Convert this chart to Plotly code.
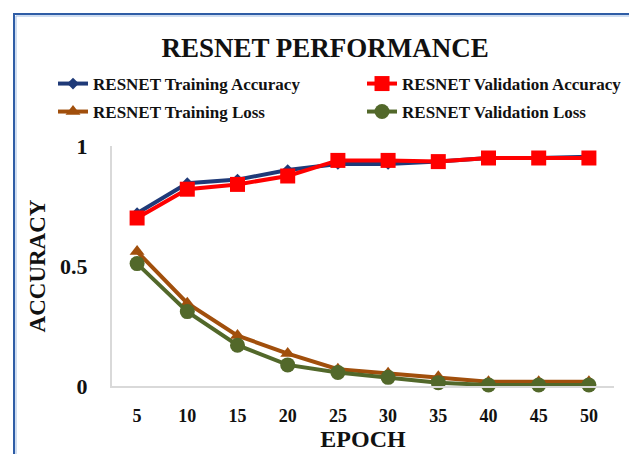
import plotly.graph_objects as go

# Epochs and per-epoch metrics for the ResNet run
epochs = [5, 10, 15, 20, 25, 30, 35, 40, 45, 50]
train_acc = [0.72, 0.845, 0.86, 0.90, 0.925, 0.925, 0.935, 0.95, 0.95, 0.955]
val_acc = [0.70, 0.82, 0.84, 0.875, 0.94, 0.94, 0.935, 0.95, 0.95, 0.95]
train_loss = [0.56, 0.345, 0.21, 0.135, 0.07, 0.053, 0.039, 0.018, 0.018, 0.018]
val_loss = [0.51, 0.31, 0.17, 0.088, 0.056, 0.036, 0.014, 0.004, 0.004, 0.004]

y_ticks = [0, 0.5, 1]
y_tick_text = ["0", "0.5", "1"]

SERIF = "Liberation Serif, Times New Roman, serif"

fig = go.Figure()

fig.add_trace(go.Scatter(
    x=epochs, y=train_acc, name="RESNET Training Accuracy", mode="lines+markers",
    line=dict(color="#1f3a78", width=4),
    marker=dict(symbol="diamond", size=9, color="#1f3a78"),
    legend="legend", cliponaxis=False,
))
fig.add_trace(go.Scatter(
    x=epochs, y=val_acc, name="RESNET Validation Accuracy", mode="lines+markers",
    line=dict(color="#ff0000", width=4),
    marker=dict(symbol="square", size=15, color="#ff0000"),
    legend="legend", cliponaxis=False,
))
fig.add_trace(go.Scatter(
    x=epochs, y=train_loss, name="RESNET Training Loss", mode="lines+markers",
    line=dict(color="#a14f0c", width=4),
    marker=dict(symbol="triangle-up", size=13, color="#a14f0c"),
    legend="legend2", cliponaxis=False,
))
fig.add_trace(go.Scatter(
    x=epochs, y=val_loss, name="RESNET Validation Loss", mode="lines+markers",
    line=dict(color="#52682a", width=4),
    marker=dict(symbol="circle", size=15, color="#52682a"),
    legend="legend2", cliponaxis=False,
))

legend_common = dict(
    orientation="h", xanchor="left", yanchor="middle",
    entrywidth=264, entrywidthmode="pixels",
    font=dict(family=SERIF, size=17, color="#111111", weight="bold"),
    bgcolor="rgba(0,0,0,0)", borderwidth=0, traceorder="normal",
)

fig.update_layout(
    width=629, height=454,
    margin=dict(l=112, r=15, t=146, b=68, autoexpand=False),
    paper_bgcolor="white", plot_bgcolor="white",
    showlegend=True,
    title=dict(
        text="<b>RESNET PERFORMANCE</b>",
        font=dict(family=SERIF, size=27, color="#111111"),
        x=0.517, xref="container", xanchor="center",
        y=1 - 48 / 454, yref="container", yanchor="middle",
    ),
    legend=dict(x=-0.1175, y=1.2583, **legend_common),
    legend2=dict(x=-0.1175, y=1.1417, **legend_common),
    xaxis=dict(
        range=[2.5, 52.5], tickvals=epochs, ticktext=[str(e) for e in epochs],
        showgrid=False, zeroline=False, showline=True, linecolor="#d9d9d9", linewidth=2,
        ticks="", ticklabelstandoff=12,
        tickfont=dict(family=SERIF, size=18, color="#111111", weight="bold"),
        title=dict(text="<b>EPOCH</b>", standoff=5,
                   font=dict(family=SERIF, size=24, color="#111111")),
    ),
    yaxis=dict(
        range=[0, 1], tickvals=y_ticks, ticktext=y_tick_text,
        showgrid=False, zeroline=False, showline=True, linecolor="#d9d9d9", linewidth=2,
        ticks="", ticklabelstandoff=18,
        tickfont=dict(family=SERIF, size=22, color="#111111", weight="bold"),
        title=dict(text="<b>ACCURACY</b>", standoff=8,
                   font=dict(family=SERIF, size=23, color="#111111")),
    ),
)

# Blue frame along the top and left edges of the chart
px_x = lambda p: (p - 112) / 502
px_y = lambda p: (386 - p) / 240
fig.add_shape(type="path", xref="paper", yref="paper",
              path=f"M {px_x(14)} {px_y(470)} L {px_x(14)} {px_y(14)} L {px_x(640)} {px_y(14)}",
              line=dict(color="#2f5da6", width=2))
fig.add_shape(type="path", xref="paper", yref="paper",
              path=f"M {px_x(16)} {px_y(470)} L {px_x(16)} {px_y(16)} L {px_x(640)} {px_y(16)}",
              line=dict(color="#9dbbe3", width=1))

fig.write_html("out.html")
